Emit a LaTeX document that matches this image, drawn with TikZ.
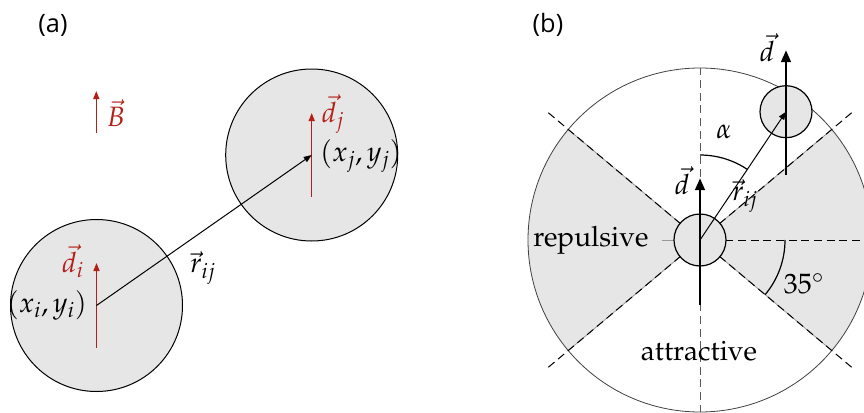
\documentclass[tikz,border=0pt]{standalone}
\usepackage[no-math]{fontspec}
\newfontfamily\panelfont{Open Sans}
\usepackage[T1]{fontenc}
\usepackage{mathpazo}
\usetikzlibrary{arrows.meta}
\definecolor{dred}{RGB}{180,32,24}
\definecolor{sectorgray}{RGB}{230,230,230}
\begin{document}
\begin{tikzpicture}[x=0.75pt,y=0.75pt,
  font=\fontsize{21}{25}\selectfont,
  ball/.style={circle,draw=black,line width=0.75pt,fill=sectorgray,inner sep=0pt,minimum size=129pt},
  smallball/.style={circle,draw=black,line width=0.9pt,fill=sectorgray,inner sep=0pt,minimum size=39pt},
  redvec/.style={draw=dred,line width=1.1pt,-{Triangle[length=6pt,width=4.5pt]}},
  thinvec/.style={draw=black,line width=0.75pt,-{Triangle[length=6pt,width=4.5pt]}},
  thickvec/.style={draw=black,line width=2.2pt,-{Triangle[length=9pt,width=7pt]}},
  redlabel/.style={text=dred,inner sep=0pt},
  lbl/.style={inner sep=0pt},
  panel/.style={inner sep=0pt,font=\panelfont\fontsize{19}{23}\selectfont},
  dashline/.style={draw=black,line width=0.75pt,dash pattern=on 6pt off 3.5pt},
  edge/.style={draw=black!40,line width=0.6pt},
  anglearc/.style={draw=black,line width=0.9pt}]
\useasboundingbox (0,0) rectangle (864,412);

% ---------- panel (a) ----------
\node[panel] (pa) at (53,387) {(a)};
\node[ball] (ci) at (96.5,106.5) {};
\node[ball] (cj) at (311.7,257) {};
\coordinate (di0) at (96.5,64);
\coordinate (di1) at (96.5,149);
\coordinate (dj0) at (311.7,215);
\coordinate (dj1) at (311.7,299);
\coordinate (B0) at (96.3,279);
\coordinate (B1) at (96.3,321);
\draw[redvec] (di0) -- (di1);
\draw[redvec] (dj0) -- (dj1);
\draw[redvec] (B0) -- (B1);
\draw[thinvec] (ci.center) -- (cj.center);
\node[redlabel] (Blab) at (116,299) {$\vec B$};
\node[redlabel] (dilab) at (73,151) {$\vec d_i$};
\node[redlabel] (djlab) at (333,298) {$\vec d_j$};
\node[lbl] (rlab) at (203,144) {$\vec r_{ij}$};
\node[lbl] (xilab) at (47,107) {$(x_i,y_i)$};
\node[lbl] (xjlab) at (361,256) {$(x_j,y_j)$};

% ---------- panel (b) ----------
\node[panel] (pb) at (548,387) {(b)};
\coordinate (O) at (700,172);
% gray sectors
\fill[sectorgray] (O) -- ++(-40:172) arc[start angle=-40,end angle=40,radius=172] -- cycle;
\fill[sectorgray] (O) -- ++(140:172) arc[start angle=140,end angle=220,radius=172] -- cycle;
% big circle
\draw[black!75,line width=0.6pt] (O) circle[radius=172];
% sector edges
\path (O) ++(40:172) coordinate (e1);
\path (O) ++(-40:172) coordinate (e2);
\path (O) ++(140:172) coordinate (e3);
\path (O) ++(220:172) coordinate (e4);
\draw[edge] (O) -- (e1);
\draw[edge] (O) -- (e2);
\draw[edge] (O) -- (e3);
\draw[edge] (O) -- (e4);
% dashed guide lines
\path (O) ++(40:198) coordinate (f1);
\path (O) ++(-40:198) coordinate (f2);
\path (O) ++(140:198) coordinate (f3);
\path (O) ++(220:198) coordinate (f4);
\draw[dashline] (O) -- (f1);
\draw[dashline] (O) -- (f2);
\draw[dashline] (O) -- (f3);
\draw[dashline] (O) -- (f4);
\coordinate (vtop) at (700,344);
\coordinate (vbot) at (700,0);
\coordinate (hright) at (880,172);
\coordinate (hleft) at (662,172);
\draw[dashline,draw=black!65] (O) -- (vtop);
\draw[dashline,draw=black!65] (O) -- (vbot);
\draw[dashline] (O) -- (hright);
\draw[edge] (hleft) -- (O);
% angle arcs
\draw[anglearc] (O) ++(90:85) arc[start angle=90,end angle=56.2,radius=85];
\draw[anglearc] (O) ++(0:85) arc[start angle=0,end angle=-40,radius=85];
% particles
\node[smallball] (co) at (O) {};
\node[smallball] (ct) at (786,300.3) {};
% vectors
\coordinate (d0) at (700,107);
\coordinate (d1) at (700,234);
\coordinate (t0) at (786,237);
\coordinate (t1) at (786,362);
\draw[thickvec] (d0) -- (d1);
\draw[thickvec] (t0) -- (t1);
\draw[thinvec] (co.center) -- (ct.center);
% labels
\node[lbl] (dlab) at (682,231) {$\vec d$};
\node[lbl] (tlab) at (767,364) {$\vec d$};
\node[lbl] (rlabb) at (745,216) {$\vec r_{ij}$};
\node[lbl] (alab) at (724,280) {$\alpha$};
\node[lbl] (anglab) at (804,128) {$35^\circ$};
\node[lbl] (rep) at (591,172) {repulsive};
\node[lbl] (att) at (699,61) {attractive};
\end{tikzpicture}
\end{document}
